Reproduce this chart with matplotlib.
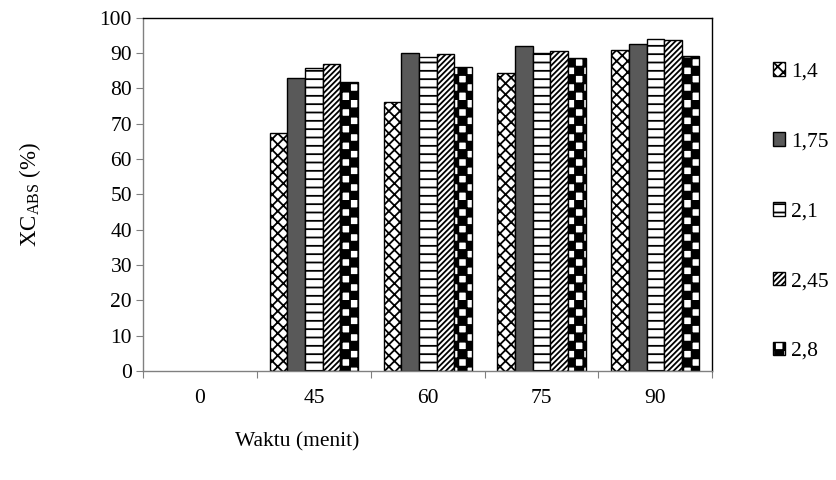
import warnings

import matplotlib

matplotlib.use("Agg")
import matplotlib.patches as mpatches
import matplotlib.pyplot as plt
import numpy as np
from matplotlib import hatch as mhatch
from matplotlib.path import Path


class CheckerHatch(mhatch.HatchPatternBase):
    """Filled checkerboard hatch, one 'c' per step of density."""

    filled = True

    def __init__(self, hatch, density):
        n = int(hatch.count("c") * density)
        self.n = n + (n % 2)
        self.num_vertices = (self.n * self.n // 2) * 5 if self.n else 0

    def set_vertices_and_codes(self, vertices, codes):
        step = 1.0 / self.n
        k = 0
        for i in range(self.n):
            for j in range(self.n):
                if (i + j) % 2:
                    continue
                x0, y0 = i * step, j * step
                vertices[k:k + 5] = [(x0, y0), (x0 + step, y0), (x0 + step, y0 + step),
                                     (x0, y0 + step), (x0, y0)]
                codes[k:k + 5] = [Path.MOVETO, Path.LINETO, Path.LINETO,
                                  Path.LINETO, Path.CLOSEPOLY]
                k += 5


mhatch._hatch_types.append(CheckerHatch)
warnings.filterwarnings("ignore")

plt.rcParams["font.family"] = ["Liberation Serif", "DejaVu Serif"]
plt.rcParams["hatch.linewidth"] = 1.3
plt.rcParams["mathtext.fontset"] = "custom"
plt.rcParams["mathtext.rm"] = "Liberation Serif"

waktu = ["0", "45", "60", "75", "90"]
series = ["1,4", "1,75", "2,1", "2,45", "2,8"]
xc_14 = [0, 67.2, 76.2, 84.4, 90.8]
xc_175 = [0, 83.0, 90.0, 91.9, 92.6]
xc_21 = [0, 85.8, 88.7, 89.9, 93.9]
xc_245 = [0, 86.9, 89.7, 90.5, 93.5]
xc_28 = [0, 81.7, 85.9, 88.6, 89.1]
values = [xc_14, xc_175, xc_21, xc_245, xc_28]

faces = ["white", "#595959", "white", "white", "white"]
hatches = ["xxx", None, "--", "//////", "cc"]

fs = 15.5
fig = plt.figure(figsize=(8.37, 4.8), dpi=100)
ax = fig.add_axes([0.171, 0.227, 0.68, 0.7365])

x = np.arange(len(waktu))
w = 0.155
handles = []
for k, (vals, fc, h) in enumerate(zip(values, faces, hatches)):
    vals = np.asarray(vals, dtype=float)
    b = ax.bar(x + (k - 2) * w, vals, width=w, color=fc, edgecolor="black",
               linewidth=1.0, hatch=h)
    # empty bars at t = 0 leave no outline
    for patch, v in zip(b, vals):
        if v == 0:
            patch.set_visible(False)
    handles.append(mpatches.Patch(facecolor=fc, edgecolor="black", linewidth=1.0,
                                  hatch=h, label=series[k]))

ax.set_xlim(-0.5, len(waktu) - 0.5)
ax.set_ylim(0, 100)
ax.set_yticks(range(0, 101, 10))
ax.set_xticks(np.arange(-0.5, len(waktu), 1.0))
ax.set_xticklabels([])
ax.set_xticks(x, minor=True)
ax.set_xticklabels(waktu, minor=True)
ax.tick_params(axis="x", which="minor", length=0, pad=13, labelsize=fs)
ax.tick_params(axis="x", which="major", length=5, color="#808080", direction="out")
ax.tick_params(axis="y", length=5, color="#808080", direction="out", labelsize=fs, pad=3)

ax.spines["left"].set_color("#808080")
ax.spines["bottom"].set_color("#808080")
ax.spines["top"].set_color("black")
ax.spines["right"].set_color("black")
for s in ax.spines.values():
    s.set_linewidth(1.0)

fig.text(0.036, 0.595, r"XC$_{\mathrm{ABS}}$ (%)", rotation=90, ha="center",
         va="center", fontsize=fs + 1)
fig.text(0.355, 0.08, "Waktu (menit)", ha="center", va="center", fontsize=fs)

fig.legend(handles=handles, loc="upper left",
           bbox_to_anchor=(0.923, 0.87), frameon=False, fontsize=fs,
           handlelength=0.6, handleheight=0.6, handletextpad=0.25,
           labelspacing=2.34, borderpad=0, borderaxespad=0)

fig.savefig("out.png", dpi=100)
